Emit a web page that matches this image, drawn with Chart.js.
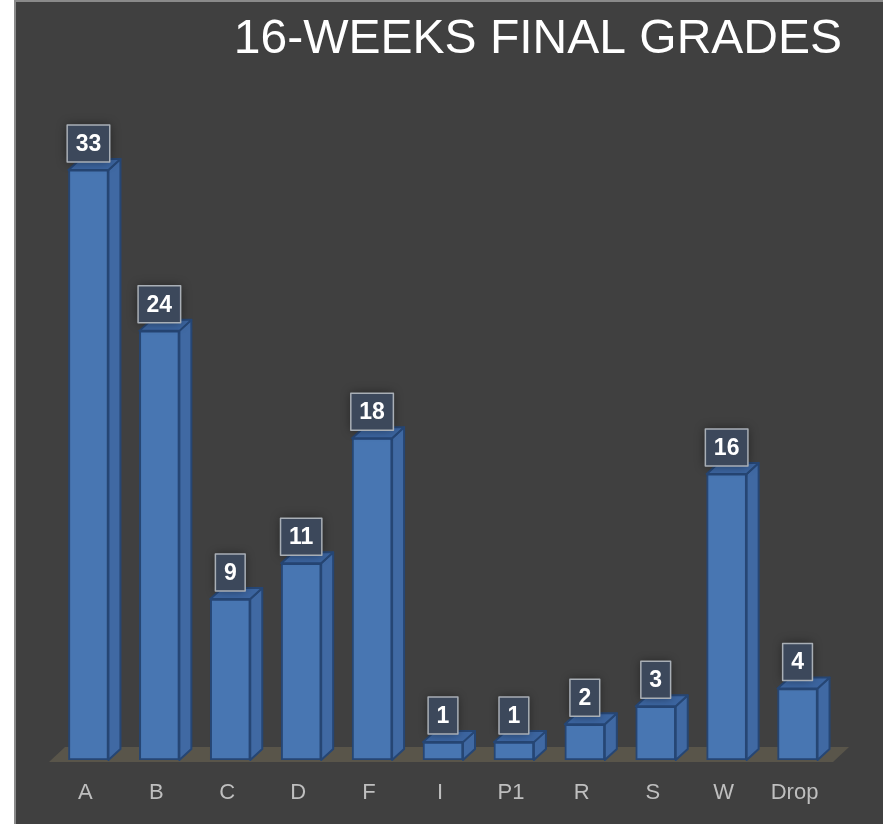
<!DOCTYPE html>
<html lang="en">
<head>
<meta charset="UTF-8">
<title>16-Weeks Final Grades</title>
<script src="https://cdn.jsdelivr.net/npm/chart.js@4.4.0/dist/chart.umd.min.js"></script>
<style>
  body { margin: 0; background: #fff; }
  .frame {
    position: absolute; left: 14px; top: 0;
    width: 869px; height: 824px; box-sizing: border-box;
    border-top: 2px solid #8a8a8a; border-left: 2px solid #8a8a8a;
    background: #404040;
  }
  canvas { display: block; }
</style>
</head>
<body>
<div class="frame">
  <canvas id="gradesChart" width="867" height="822"></canvas>
</div>
<script>
const titleText = '16-WEEKS FINAL GRADES';
const grades = ['A', 'B', 'C', 'D', 'F', 'I', 'P1', 'R', 'S', 'W', 'Drop'];
const counts = [33, 24, 9, 11, 18, 1, 1, 2, 3, 16, 4];

const DX = 12, DY = 11; // 3d depth of the bars

// floor under the bars
const floorPlugin = {
  id: 'floor',
  beforeDatasetsDraw(chart) {
    const {ctx, chartArea} = chart;
    const y = chartArea.bottom + 2;
    ctx.save();
    ctx.fillStyle = '#59554a';
    ctx.beginPath();
    ctx.moveTo(chartArea.left - 4, y);
    ctx.lineTo(chartArea.right, y);
    ctx.lineTo(chartArea.right + 16, y - 15);
    ctx.lineTo(chartArea.left + 12, y - 15);
    ctx.closePath();
    ctx.fill();
    ctx.restore();
  }
};

// side + top faces and value boxes
const boxPlugin = {
  id: 'bars3d',
  afterDatasetsDraw(chart) {
    const ctx = chart.ctx;
    const meta = chart.getDatasetMeta(0);
    ctx.save();
    ctx.lineJoin = 'round';
    ctx.lineWidth = 2;
    ctx.strokeStyle = '#264674';
    meta.data.forEach((bar, i) => {
      const l = bar.x - bar.width / 2, r = bar.x + bar.width / 2;
      const top = bar.y, base = bar.base;
      // side
      ctx.fillStyle = '#4069a3';
      ctx.beginPath();
      ctx.moveTo(r, top);
      ctx.lineTo(r + DX, top - DY);
      ctx.lineTo(r + DX, base - DY);
      ctx.lineTo(r, base);
      ctx.closePath();
      ctx.fill(); ctx.stroke();
      // top
      ctx.fillStyle = '#3c65a0';
      ctx.beginPath();
      ctx.moveTo(l, top);
      ctx.lineTo(l + DX, top - DY);
      ctx.lineTo(r + DX, top - DY);
      ctx.lineTo(r, top);
      ctx.closePath();
      ctx.fill(); ctx.stroke();

      // value box
      const txt = String(counts[i]);
      ctx.font = 'bold 23px "Liberation Sans", Arial, sans-serif';
      const w = ctx.measureText(txt).width + 17;
      const h = 37;
      const bx = bar.x - w / 2, by = top - 8 - h;
      ctx.save();
      ctx.shadowColor = 'rgba(0,0,0,0.45)';
      ctx.shadowBlur = 10;
      ctx.fillStyle = '#3c485b';
      ctx.fillRect(bx, by, w, h);
      ctx.restore();
      ctx.save();
      ctx.lineWidth = 1.5;
      ctx.strokeStyle = '#a9afb6';
      ctx.strokeRect(bx, by, w, h);
      ctx.fillStyle = '#ffffff';
      ctx.textAlign = 'center';
      ctx.textBaseline = 'middle';
      ctx.fillText(txt, bar.x, by + h / 2 + 1);
      ctx.restore();
    });
    ctx.restore();
  }
};

new Chart(document.getElementById('gradesChart'), {
  type: 'bar',
  data: {
    labels: grades,
    datasets: [{
      data: counts,
      backgroundColor: '#4876b2',
      borderColor: '#264674',
      borderWidth: 2,
      borderSkipped: false,
      barThickness: 40
    }]
  },
  options: {
    responsive: false,
    animation: false,
    layout: { padding: { left: 37, right: 41, top: 0, bottom: 0 } },
    plugins: {
      legend: { display: false },
      tooltip: { enabled: false },
      title: {
        display: true,
        text: titleText,
        align: 'end',
        color: '#ffffff',
        font: { family: '"Liberation Sans", Arial, sans-serif', size: 48, weight: 'normal', lineHeight: 1.2 },
        padding: { top: 9, bottom: 47.7 }
      }
    },
    scales: {
      x: {
        grid: { display: false, drawTicks: false },
        border: { display: false },
        ticks: {
          color: '#bfbfbf',
          padding: 20,
          labelOffset: -3,
          font: { family: '"Liberation Sans", Arial, sans-serif', size: 22 }
        },
        afterFit(scale) { scale.height = 64; }
      },
      y: {
        position: 'right',
        min: 0,
        max: 36,
        grid: { display: false },
        border: { display: false },
        ticks: { display: false },
        afterFit(scale) { scale.width = 9; }
      }
    }
  },
  plugins: [floorPlugin, boxPlugin]
});
</script>
</body>
</html>
